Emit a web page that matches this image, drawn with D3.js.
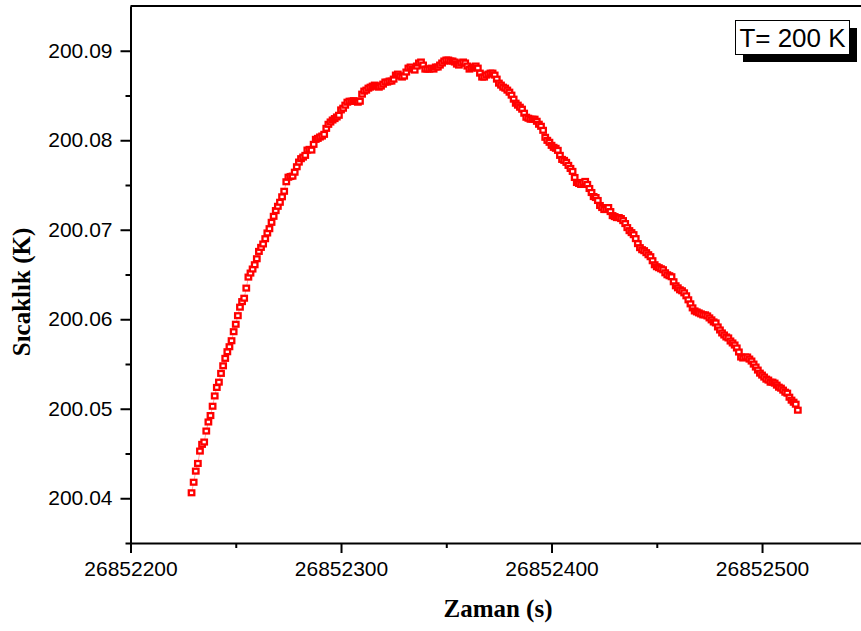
<!DOCTYPE html>
<html>
<head>
<meta charset="utf-8">
<script src="https://cdn.jsdelivr.net/npm/d3@7"></script>
<style>
  html, body { margin: 0; padding: 0; background: #fff; }
  svg { display: block; }
</style>
</head>
<body>
<svg id="chart" width="861" height="631"></svg>
<script>
// Sample timing (one reading per second)
const timeStart = 26852229;
const timeStep = 1;

// Measured temperature (K)
const sicaklik = [
  200.04061, 200.04179, 200.04303, 200.04389, 200.04527, 200.04602, 200.04628, 200.04751, 200.04852, 200.04924,
  200.05028, 200.05143, 200.05238, 200.05297, 200.05395, 200.05480, 200.05563, 200.05637, 200.05693, 200.05760,
  200.05861, 200.05944, 200.06040, 200.06135, 200.06197, 200.06235, 200.06348, 200.06471, 200.06516, 200.06561,
  200.06609, 200.06676, 200.06758, 200.06803, 200.06841, 200.06900, 200.06964, 200.07012, 200.07083, 200.07150,
  200.07214, 200.07262, 200.07307, 200.07368, 200.07430, 200.07536, 200.07587, 200.07595, 200.07599, 200.07643,
  200.07704, 200.07756, 200.07794, 200.07812, 200.07831, 200.07890, 200.07898, 200.07890, 200.07954, 200.08010,
  200.08021, 200.08036, 200.08047, 200.08066, 200.08133, 200.08178, 200.08204, 200.08226, 200.08242, 200.08260,
  200.08279, 200.08339,
  200.08358, 200.08392, 200.08425, 200.08436, 200.08436, 200.08442, 200.08436, 200.08425, 200.08436, 200.08515,
  200.08549, 200.08560, 200.08582, 200.08593, 200.08605, 200.08616, 200.08605, 200.08593, 200.08605, 200.08627,
  200.08650, 200.08650, 200.08661, 200.08661, 200.08683, 200.08728, 200.08739, 200.08717, 200.08706, 200.08717,
  200.08762, 200.08806, 200.08818, 200.08795, 200.08784, 200.08829, 200.08863, 200.08874, 200.08840, 200.08795,
  200.08795, 200.08795, 200.08806, 200.08795, 200.08818, 200.08818, 200.08840, 200.08863, 200.08885, 200.08896,
  200.08896, 200.08885, 200.08885, 200.08874, 200.08851, 200.08840, 200.08863, 200.08874, 200.08863, 200.08829,
  200.08795, 200.08806, 200.08818, 200.08829, 200.08806, 200.08750, 200.08706, 200.08706, 200.08728, 200.08739,
  200.08750, 200.08750, 200.08728, 200.08683, 200.08638, 200.08616, 200.08593, 200.08582, 200.08560, 200.08537,
  200.08504, 200.08459, 200.08414, 200.08392, 200.08369, 200.08347, 200.08302, 200.08257, 200.08246, 200.08235,
  200.08235, 200.08235, 200.08212, 200.08179, 200.08156, 200.08111, 200.08033, 200.07999, 200.07977, 200.07943,
  200.07921, 200.07910, 200.07887, 200.07831, 200.07786, 200.07775, 200.07753, 200.07719, 200.07685, 200.07652,
  200.07584, 200.07528, 200.07517, 200.07506, 200.07528, 200.07540, 200.07506, 200.07461, 200.07416, 200.07371,
  200.07360, 200.07327, 200.07271, 200.07248, 200.07226, 200.07226, 200.07248, 200.07203, 200.07158, 200.07147,
  200.07136, 200.07136, 200.07125, 200.07102, 200.07069, 200.07024, 200.06990, 200.06968, 200.06945, 200.06901,
  200.06845, 200.06800, 200.06777, 200.06766, 200.06744, 200.06721, 200.06699, 200.06654, 200.06609, 200.06587,
  200.06576, 200.06564, 200.06553, 200.06519, 200.06497, 200.06486, 200.06475, 200.06419, 200.06374, 200.06351,
  200.06329, 200.06318, 200.06295, 200.06262, 200.06217, 200.06172, 200.06127, 200.06093, 200.06082, 200.06071,
  200.06060, 200.06049, 200.06049, 200.06037, 200.06015, 200.05993, 200.05970, 200.05959, 200.05914, 200.05880,
  200.05847, 200.05824, 200.05802, 200.05791, 200.05757, 200.05735, 200.05712, 200.05679, 200.05634, 200.05578,
  200.05567, 200.05578, 200.05578, 200.05555, 200.05533, 200.05499, 200.05466, 200.05432, 200.05398, 200.05376,
  200.05354, 200.05331, 200.05320, 200.05297, 200.05297, 200.05286, 200.05264, 200.05241, 200.05230, 200.05208,
  200.05185, 200.05174, 200.05129, 200.05096, 200.05073, 200.05051, 200.04984
];

// Axis ticks
const xMajorTicks = [26852200, 26852300, 26852400, 26852500];
const xMinorTicks = [26852250, 26852350, 26852450];
const yMajorTicks = [200.04, 200.05, 200.06, 200.07, 200.08, 200.09];
const yMinorTicks = [200.035, 200.045, 200.055, 200.065, 200.075, 200.085];

const legendText = "T= 200 K";
const xTitle = "Zaman (s)";
const yTitle = "Sıcaklık (K)";

const data = sicaklik.map((v, i) => ({ t: timeStart + i * timeStep, v }));

const svg = d3.select("#chart");
const plot = { left: 130.5, top: 6, bottom: 543, right: 867.3 };

const x = d3.scaleLinear().domain([26852200, 26852550]).range([plot.left, plot.right]);
const y = d3.scaleLinear().domain([200.035, 200.095]).range([plot.bottom, plot.top]);

const tickFont = "'Liberation Sans', Arial, sans-serif";
const titleFont = "'Liberation Serif', 'Times New Roman', serif";

// Thin connecting trace under the symbols
svg.append("path")
  .datum(data)
  .attr("fill", "none")
  .attr("stroke", "#ff4040")
  .attr("stroke-width", 0.8)
  .attr("stroke-opacity", 0.6)
  .attr("d", d3.line().x(d => x(d.t)).y(d => y(d.v)));

// Square symbols (red outline, small white core)
svg.append("g")
  .selectAll("rect")
  .data(data)
  .join("rect")
  .attr("x", d => x(d.t) - 2.75)
  .attr("y", d => y(d.v) - 2.4)
  .attr("width", 5.5)
  .attr("height", 4.8)
  .attr("fill", "#fff")
  .attr("stroke", "#ff0000")
  .attr("stroke-width", 2.3);

// Bottom axis
const xAxis = svg.append("g").attr("transform", `translate(0,${plot.bottom})`);
xAxis.call(d3.axisBottom(x).tickValues(xMajorTicks).tickFormat(d3.format("d")).tickSize(10).tickPadding(8).tickSizeOuter(0));
xAxis.append("g").call(d3.axisBottom(x).tickValues(xMinorTicks).tickFormat("").tickSize(5).tickSizeOuter(0))
  .select(".domain").remove();

// Left axis
const yAxis = svg.append("g").attr("transform", `translate(${plot.left},0)`);
yAxis.call(d3.axisLeft(y).tickValues(yMajorTicks).tickFormat(d3.format(".2f")).tickSize(10).tickPadding(8).tickSizeOuter(0));
yAxis.append("g").call(d3.axisLeft(y).tickValues(yMinorTicks).tickFormat("").tickSize(5).tickSizeOuter(0))
  .select(".domain").remove();

svg.selectAll(".tick line").attr("stroke", "#000").attr("stroke-width", 2);
svg.selectAll(".domain").attr("stroke", "#000").attr("stroke-width", 2);
svg.selectAll(".tick text")
  .attr("fill", "#000")
  .style("font-family", tickFont)
  .style("font-size", "21px");

// Top frame line
svg.append("line")
  .attr("x1", plot.left).attr("x2", plot.right)
  .attr("y1", plot.top).attr("y2", plot.top)
  .attr("stroke", "#000").attr("stroke-width", 2);

// Axis titles
svg.append("text")
  .attr("x", 498).attr("y", 617)
  .attr("text-anchor", "middle")
  .style("font-family", titleFont)
  .style("font-weight", "bold")
  .style("font-size", "25px")
  .text(xTitle);

svg.append("text")
  .attr("transform", "translate(30,292) rotate(-90)")
  .attr("text-anchor", "middle")
  .style("font-family", titleFont)
  .style("font-weight", "bold")
  .style("font-size", "25px")
  .text(yTitle);

// Legend box with drop shadow
const lg = { x: 735, y: 20, w: 114, h: 34, off: 8 };
svg.append("rect")
  .attr("x", lg.x + lg.off).attr("y", lg.y + lg.off)
  .attr("width", lg.w).attr("height", lg.h)
  .attr("fill", "#000");
svg.append("rect")
  .attr("x", lg.x + 0.5).attr("y", lg.y + 0.5)
  .attr("width", lg.w).attr("height", lg.h)
  .attr("fill", "#fff").attr("stroke", "#000").attr("stroke-width", 1);
svg.append("text")
  .attr("x", lg.x + lg.w / 2 + 0.5).attr("y", lg.y + 27)
  .attr("text-anchor", "middle")
  .style("font-family", tickFont)
  .style("font-size", "26px")
  .text(legendText);
</script>
</body>
</html>
